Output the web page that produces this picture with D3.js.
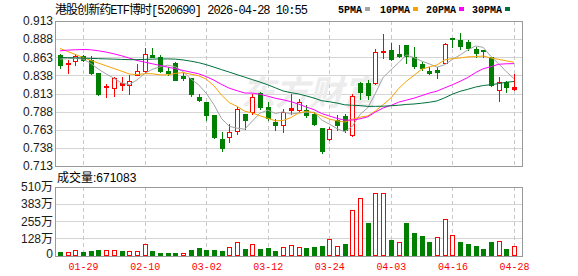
<!DOCTYPE html>
<html>
<head>
<meta charset="utf-8">
<script src="https://d3js.org/d3.v7.min.js"></script>
<style>
  body { margin: 0; background: #fff; }
  svg { display: block; }
  text { font-family: "Liberation Sans", Arial, "Noto Sans CJK SC", sans-serif; }
  .mono { font-family: "Liberation Mono", "DejaVu Sans Mono", "Noto Sans CJK SC", monospace; }
</style>
</head>
<body>
<svg id="chart" width="578" height="276"></svg>
<script>

// trading days shown (2026)
var dates = ["01-26","01-27","01-28","01-29","01-30","02-02","02-03","02-04","02-05","02-06",
             "02-09","02-10","02-11","02-12","02-13","02-24","02-25","02-26","02-27","03-02",
             "03-03","03-04","03-05","03-06","03-09","03-10","03-11","03-12","03-13","03-16",
             "03-17","03-18","03-19","03-20","03-23","03-24","03-25","03-26","03-27","03-30",
             "03-31","04-01","04-02","04-03","04-07","04-08","04-09","04-10","04-13","04-14",
             "04-15","04-16","04-17","04-20","04-21","04-22","04-23","04-24","04-27","04-28"];

var open  = [.866,.8535,.8576,.8645,.859,.8406,.8213,.8199,.8244,.8245,
             .8392,.8443,.8664,.8627,.8438,.8544,.837,.8337,.8084,.8015,
             .784,.7499,.7532,.761,.7845,.7868,.8139,.7937,.7739,.7693,
             .790,.7909,.790,.7854,.7656,.7509,.7762,.7817,.7555,.8277,
             .8268,.8277,.8696,.8728,.8673,.8797,.8627,.8535,.8443,.8452,
             .8553,.8889,.8866,.8834,.8742,.8728,.8627,.8185,.8282,.8194];
var high  = [.867,.859,.868,.8655,.8645,.8406,.8259,.836,.8351,.838,
             .8535,.8756,.8756,.8664,.8498,.8558,.8406,.835,.813,.8015,
             .784,.760,.7716,.7937,.7854,.813,.8153,.8015,.7785,.7923,
             .813,.806,.7969,.7877,.7656,.767,.783,.7854,.812,.8291,
             .8314,.8737,.8949,.8829,.8797,.8797,.8765,.8567,.8498,.8489,
             .882,.8889,.8958,.8866,.8774,.8728,.8636,.8351,.8305,.8397];
var low   = [.848,.8415,.853,.858,.8405,.811,.8075,.8098,.8185,.813,
             .8392,.8406,.8627,.843,.838,.8314,.8323,.8093,.802,.7762,
             .7522,.7338,.7465,.7578,.7647,.7854,.7923,.7762,.7624,.760,
             .7854,.7877,.7808,.7693,.731,.7495,.7624,.760,.754,.806,
             .806,.8259,.8613,.859,.8636,.8544,.8484,.8452,.8397,.8346,
             .8544,.8765,.8737,.8728,.8636,.8636,.8231,.8028,.8153,.8176];
var close = [.852,.8553,.8645,.859,.8415,.812,.8231,.8346,.8268,.830,
             .8438,.8673,.8636,.8443,.8415,.8323,.8342,.813,.8047,.783,
             .7532,.738,.7594,.7923,.7762,.8084,.7937,.7794,.7693,.7877,
             .7932,.8006,.784,.7707,.7338,.7647,.7693,.7624,.8094,.8153,
             .8107,.8696,.8714,.8604,.865,.8645,.8512,.8475,.8415,.842,
             .8811,.8875,.8788,.876,.8691,.8719,.8245,.8282,.8222,.8213];

// volume in 万 shares, and whether the volume bar is drawn red
var volume = [27,24,39,27,34,41,39,39,34,32,
              32,83,34,19,19,19,17,41,56,41,
              41,34,61,104,49,85,49,56,34,63,
              78,63,56,66,73,122,70,87,340,430,
              241,464,464,117,102,241,170,146,97,136,
              275,151,102,87,73,51,97,109,51,67.1083];
var volUp  = [0,1,1,0,0,0,1,1,0,1, 1,1,0,0,0,0,1,0,0,0,
              0,0,1,1,0,1,0,0,0,1, 1,1,0,0,0,1,1,0,1,1,
              0,1,1,0,1,0,0,0,0,1, 1,1,0,0,0,0,0,1,0,1];

var ma5  = [.8605,.8610,.8615,.8605,.8545,.8465,.8400,.8340,.8276,.8253,
            .8317,.8405,.8463,.8498,.8521,.8498,.8432,.8331,.8251,.8134,
            .7976,.7784,.7677,.7652,.7638,.7749,.7860,.7900,.7854,.7877,
            .7847,.7860,.7870,.7872,.7765,.7708,.7645,.7602,.7679,.7842,
            .7934,.8135,.8353,.8455,.8554,.8662,.8625,.8577,.8539,.8493,
            .8527,.8599,.8662,.8731,.8785,.8767,.8641,.8539,.8432,.8336];
var ma10 = [.8751,.8710,.8668,.8627,.8586,.8549,.8512,.8475,.8438,.8399,
            .8391,.8403,.8402,.8387,.8387,.8407,.8418,.8397,.8375,.8328,
            .8237,.8108,.8004,.7952,.7886,.7862,.7822,.7788,.7753,.7758,
            .7798,.7860,.7885,.7863,.7821,.7777,.7753,.7736,.7776,.7803,
            .7821,.7890,.7977,.8067,.8198,.8298,.8380,.8465,.8497,.8524,
            .8594,.8612,.8620,.8635,.8639,.8647,.8620,.8601,.8581,.8561];
var ma20 = [.8719,.8728,.8733,.8737,.8733,.8719,.8701,.8678,.8650,.8618,
            .8586,.8563,.8540,.8517,.8494,.8471,.8448,.8425,.8402,.8363,
            .8314,.8255,.8203,.8169,.8137,.8135,.8120,.8093,.8064,.8043,
            .8017,.7984,.7944,.7907,.7854,.7820,.7787,.7762,.7764,.7781,
            .7809,.7875,.7931,.7965,.8010,.8038,.8066,.8100,.8136,.8163,
            .8208,.8251,.8298,.8351,.8418,.8472,.8500,.8533,.8540,.8542];
var ma30 = [.8627,.8625,.8622,.8618,.8614,.8611,.8607,.8604,.8600,.8597,
            .8597,.8600,.8604,.8607,.8607,.8604,.8593,.8576,.8556,.8528,
            .8494,.8459,.8425,.8390,.8356,.8321,.8287,.8250,.8208,.8165,
            .8142,.8124,.8097,.8067,.8031,.8016,.7998,.7974,.7968,.7963,
            .7952,.7953,.7955,.7961,.7968,.7979,.7985,.7996,.8009,.8028,
            .8071,.8121,.8160,.8188,.8219,.8240,.8251,.8267,.8285,.8296];

var priceTicks = [0.713,0.738,0.763,0.788,0.813,0.838,0.863,0.888,0.913];
var volTicks = [0,127.5,255,382.5,510];
var volTickLabels = ["0","128万","255万","383万","510万"];
var dateTicks = ["01-29","02-10","03-02","03-12","03-24","04-03","04-16","04-28"];
var maNames = ["5PMA","10PMA","20PMA","30PMA"];

var UP = "#ff0000", DOWN = "#008000";
var maColors = ["#a3a3a3","#f5a300","#ff00ff","#00703c"];

var svg = d3.select("#chart");
var left = 55, right = 522;
var mainTop = 21, mainBottom = 166;
var volTop = 187, volBottom = 255.5;

var x = d3.scalePoint().domain(dates).range([60, 514]);
var y = d3.scaleLinear().domain([0.713, 0.913]).range([mainBottom, mainTop]);
var yv = d3.scaleLinear().domain([0, 510]).range([volBottom, volTop]);

function px(v) { return Math.round(v) + 0.5; }

// title + legend
svg.append("text").attr("class", "mono")
  .attr("x", 55).attr("y", 14)
  .attr("font-size", 12).attr("fill", "#000")
  .attr("textLength", 253)
  .text("港股创新药ETF博时[520690] 2026-04-28 10:55");

var legX = [338, 380, 426, 472];
maNames.forEach(function(n, i) {
  svg.append("text").attr("class", "mono")
    .attr("x", legX[i]).attr("y", 13)
    .attr("font-size", 10).attr("font-weight", "bold").attr("fill", "#000")
    .text(n);
  svg.append("rect")
    .attr("x", legX[i] + n.length * 6 + 3).attr("y", 7)
    .attr("width", 5).attr("height", 4)
    .attr("fill", maColors[i]);
});

// grid: horizontal
var grid = svg.append("g").attr("shape-rendering", "crispEdges");
grid.selectAll(".hg").data(priceTicks.slice(1, -1)).enter().append("line")
  .attr("x1", left).attr("x2", right)
  .attr("y1", function(d) { return px(y(d)); })
  .attr("y2", function(d) { return px(y(d)); })
  .attr("stroke", "#d4d4d4");
grid.selectAll(".vg").data(volTicks.slice(1, -1)).enter().append("line")
  .attr("x1", left).attr("x2", right)
  .attr("y1", function(d) { return px(yv(d)); })
  .attr("y2", function(d) { return px(yv(d)); })
  .attr("stroke", "#d4d4d4");

// grid: vertical dashed at date labels
dateTicks.forEach(function(d) {
  var xx = px(x(d));
  grid.append("line").attr("x1", xx).attr("x2", xx)
    .attr("y1", mainTop).attr("y2", mainBottom)
    .attr("stroke", "#c8c8c8").attr("stroke-dasharray", "4,3");
  grid.append("line").attr("x1", xx).attr("x2", xx)
    .attr("y1", volTop).attr("y2", volBottom)
    .attr("stroke", "#c8c8c8").attr("stroke-dasharray", "4,3");
});

// watermark
svg.append("text")
  .attr("x", 241).attr("y", 105)
  .attr("font-size", 34).attr("font-weight", "bold").attr("font-style", "italic")
  .attr("font-family", "Noto Sans CJK SC")
  .attr("fill", "#ececec")
  .text("东方财富");

// candles
var candles = svg.append("g").attr("shape-rendering", "crispEdges");
dates.forEach(function(d, i) {
  var cx = Math.round(x(d));
  var up = close[i] >= open[i];
  var col = up ? UP : DOWN;
  candles.append("line")
    .attr("x1", cx + 0.5).attr("x2", cx + 0.5)
    .attr("y1", Math.round(y(high[i]))).attr("y2", Math.round(y(low[i])) + 1)
    .attr("stroke", col);
  var top = Math.round(y(Math.max(open[i], close[i])));
  var bot = Math.round(y(Math.min(open[i], close[i])));
  if (up && bot - top >= 3) {
    candles.append("rect")
      .attr("x", cx - 1.5).attr("y", top + 0.5)
      .attr("width", 4).attr("height", bot - top)
      .attr("fill", "#fff").attr("stroke", col);
  } else {
    candles.append("rect")
      .attr("x", cx - 2).attr("y", top)
      .attr("width", 5).attr("height", Math.max(1, bot - top + 1))
      .attr("fill", col);
  }
});

// moving averages
var line = d3.line()
  .x(function(d, i) { return x(dates[i]); })
  .y(function(d) { return y(d); });
[ma5, ma10, ma20, ma30].forEach(function(s, k) {
  svg.append("path").datum(s)
    .attr("d", line)
    .attr("fill", "none")
    .attr("stroke", maColors[k])
    .attr("stroke-width", 1);
});

// volume bars
var bars = svg.append("g").attr("shape-rendering", "crispEdges");
dates.forEach(function(d, i) {
  var cx = Math.round(x(d));
  var top = Math.round(yv(volume[i]));
  var base = Math.round(volBottom);
  if (volUp[i]) {
    bars.append("rect")
      .attr("x", cx - 1.5).attr("y", top + 0.5)
      .attr("width", 4).attr("height", base - top - 1)
      .attr("fill", "#fff").attr("stroke", UP);
  } else {
    bars.append("rect")
      .attr("x", cx - 2).attr("y", top)
      .attr("width", 5).attr("height", base - top)
      .attr("fill", DOWN);
  }
});

// frames
var frame = svg.append("g").attr("fill", "none").attr("stroke", "#999")
  .attr("shape-rendering", "crispEdges");
frame.append("rect").attr("x", left + 0.5).attr("y", mainTop + 0.5)
  .attr("width", right - left).attr("height", mainBottom - mainTop);
frame.append("rect").attr("x", left + 0.5).attr("y", volTop + 0.5)
  .attr("width", right - left).attr("height", Math.round(volBottom) - volTop);

// price axis labels
svg.selectAll(".pl").data(priceTicks).enter().append("text")
  .attr("x", 53).attr("y", function(d) { return y(d); })
  .attr("dy", "0.36em")
  .attr("text-anchor", "end").attr("font-size", 12).attr("fill", "#1a1a1a")
  .text(function(d) { return d.toFixed(3); });

// volume axis labels
svg.selectAll(".vl").data(volTicks).enter().append("text")
  .attr("x", 53).attr("y", function(d, i) { return i == 0 ? 254 : yv(d); })
  .attr("dy", "0.36em")
  .attr("text-anchor", "end").attr("font-size", 12).attr("fill", "#1a1a1a")
  .text(function(d, i) { return volTickLabels[i]; });

svg.append("text")
  .attr("x", 57).attr("y", 182)
  .attr("font-size", 12).attr("fill", "#000")
  .text("成交量:" + Math.round(volume[volume.length - 1] * 10000));

// date labels
svg.selectAll(".dl").data(dateTicks).enter().append("text")
  .attr("class", "mono")
  .attr("x", function(d) { return x(d) + 0.5; }).attr("y", 270)
  .attr("text-anchor", "middle").attr("font-size", 11).attr("fill", "#ff0000")
  .attr("textLength", 30).attr("lengthAdjust", "spacingAndGlyphs")
  .text(function(d) { return d; });

</script>
</body>
</html>
